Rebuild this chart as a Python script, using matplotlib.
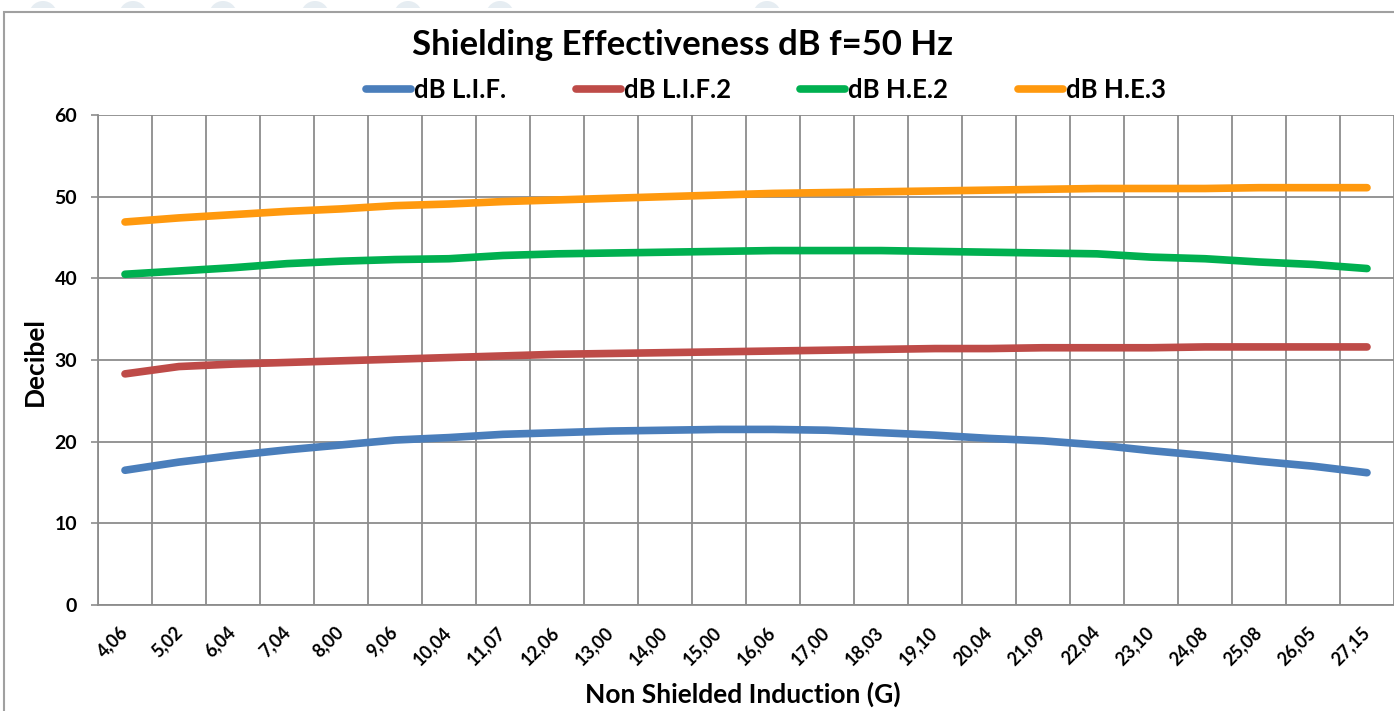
import matplotlib.pyplot as plt
from matplotlib.patches import Rectangle, Ellipse

# categorie asse x (induzione non schermata, G)
categories = ['4,06', '5,02', '6,04', '7,04', '8,00', '9,06', '10,04', '11,07',
              '12,06', '13,00', '14,00', '15,00', '16,06', '17,00', '18,03', '19,10',
              '20,04', '21,09', '22,04', '23,10', '24,08', '25,08', '26,05', '27,15']

db_lif = [16.5, 17.5, 18.3, 19.0, 19.6, 20.2, 20.5, 20.9, 21.1, 21.3, 21.4, 21.5,
          21.5, 21.4, 21.1, 20.8, 20.4, 20.1, 19.6, 18.9, 18.3, 17.6, 17.0, 16.2]
db_lif2 = [28.3, 29.2, 29.5, 29.7, 29.9, 30.1, 30.3, 30.5, 30.7, 30.8, 30.9, 31.0,
           31.1, 31.2, 31.3, 31.4, 31.4, 31.5, 31.5, 31.5, 31.6, 31.6, 31.6, 31.6]
db_he2 = [40.5, 40.9, 41.3, 41.8, 42.1, 42.3, 42.4, 42.8, 43.0, 43.1, 43.2, 43.3,
          43.4, 43.4, 43.4, 43.3, 43.2, 43.1, 43.0, 42.6, 42.4, 42.0, 41.7, 41.2]
db_he3 = [46.9, 47.4, 47.8, 48.2, 48.5, 48.9, 49.1, 49.4, 49.6, 49.8, 50.0, 50.2,
          50.4, 50.5, 50.6, 50.7, 50.8, 50.9, 51.0, 51.0, 51.0, 51.1, 51.1, 51.1]

W, H = 1394, 711
fig = plt.figure(figsize=(W / 100, H / 100), dpi=100)
plt.rcParams['font.family'] = ['Lato', 'DejaVu Sans']

# cerchi decorativi in alto (sfondo pagina) e bordo del grafico
for cx in [43, 133, 223, 315, 408, 500, 767]:
    fig.patches.append(Ellipse((cx / W, 1 - 15 / H), 28 / W, 28 / H, transform=fig.transFigure,
                               facecolor='#e6edf2', edgecolor='none', zorder=0))
fig.patches.append(Rectangle((0, 0), 1, 1 - 8 / H, transform=fig.transFigure,
                             facecolor='white', edgecolor='none', zorder=0.5))
fig.patches.append(Rectangle((4 / W, -0.1), 1.2, 1 - 12 / H + 0.1, transform=fig.transFigure,
                             facecolor='white', edgecolor='#a0a0a0', linewidth=1.5, zorder=1))

ax = fig.add_axes([98 / W, 1 - 605 / H, (1394 - 98) / W, (605 - 115) / H])
ax.set_zorder(2)
ax.patch.set_alpha(0)

x = range(len(categories))
series = [(db_lif, 'dB L.I.F.', '#4a7ebb'),
          (db_lif2, 'dB L.I.F.2', '#be4b48'),
          (db_he2, 'dB H.E.2', '#00b050'),
          (db_he3, 'dB H.E.3', '#ff990e')]
for vals, name, col in series:
    ax.plot(x, vals, color=col, linewidth=5.5, solid_capstyle='round', label=name, zorder=3)

ax.set_xlim(-0.5, len(categories) - 0.5)
ax.set_ylim(0, 60)
ax.set_yticks(range(0, 61, 10))
ax.set_xticks(list(x))
ax.set_xticks([i - 0.5 for i in range(len(categories) + 1)], minor=True)
ax.tick_params(axis='x', which='major', length=0, pad=17.5)
ax.tick_params(axis='x', which='minor', length=0)
ax.tick_params(axis='y', length=5, width=1.2, color='#8c8c8c', labelsize=14, pad=10)
ax.set_xticklabels(categories)
for lab in ax.get_xticklabels():
    lab.set_rotation(45)
    lab.set_rotation_mode('anchor')
    lab.set_ha('right')
    lab.set_va('center')
    lab.set_fontsize(13)
    lab.set_fontweight('bold')
for lab in ax.get_yticklabels():
    lab.set_fontweight('bold')

ax.grid(True, which='minor', axis='x', color='#8c8c8c', linewidth=1.3)
ax.grid(True, which='major', axis='y', color='#8c8c8c', linewidth=1.3)
for s in ax.spines.values():
    s.set_visible(False)
for side in ['left', 'bottom']:
    ax.spines[side].set_visible(True)
    ax.spines[side].set_color('#8c8c8c')
    ax.spines[side].set_linewidth(1.3)

fig.text(35 / W, 1 - 362 / H, 'Decibel', fontsize=19, fontweight='bold', rotation=90,
         ha='center', va='center')
fig.text(743 / W, 1 - 694 / H, 'Non Shielded Induction (G)', fontsize=19, fontweight='bold',
         ha='center', va='center')
fig.text(683 / W, 1 - 45 / H, 'Shielding Effectiveness dB f=50 Hz', fontsize=25,
         fontweight='bold', ha='center', va='center')

fig.legend(loc='center', bbox_to_anchor=(766 / W, 1 - 90 / H), ncol=4, frameon=False,
           prop={'size': 18.5, 'weight': 'bold'}, handlelength=1.75, handletextpad=0.12,
           columnspacing=2.7)

fig.savefig('out.png', dpi=100)
